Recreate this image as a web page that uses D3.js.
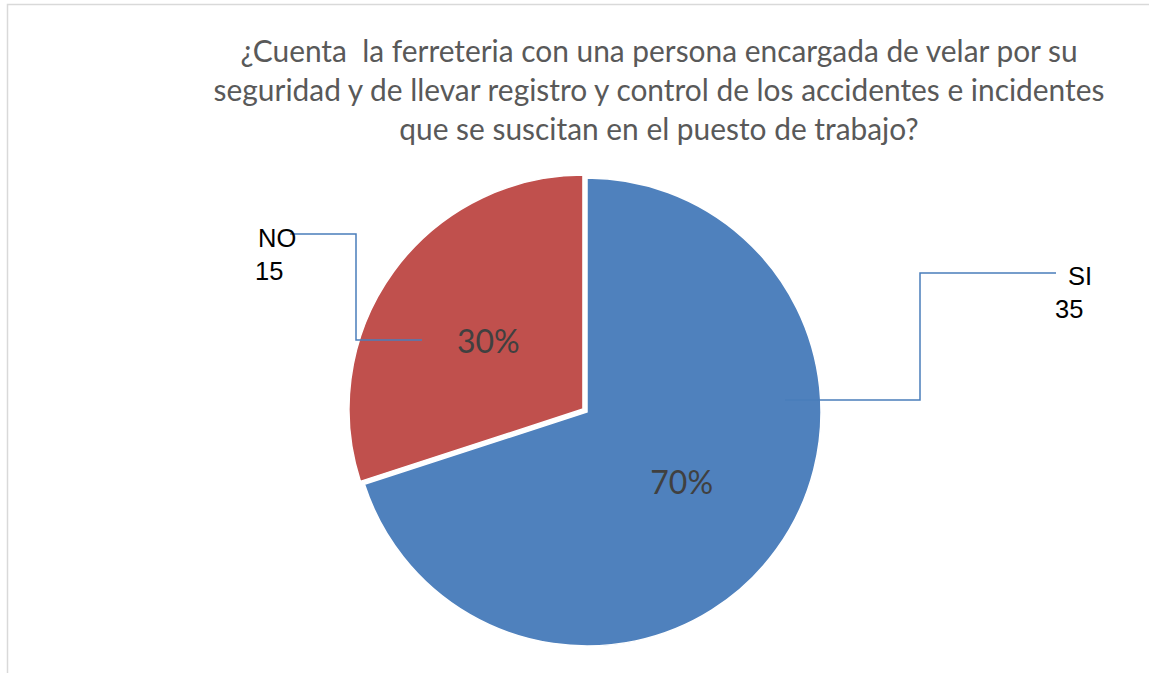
<!DOCTYPE html>
<html><head><meta charset="utf-8">
<script src="https://cdn.jsdelivr.net/npm/d3@7"></script>
<style>html,body{margin:0;padding:0;background:#fff;overflow:hidden} text{white-space:pre}</style>
</head><body>
<svg id="c" width="1149" height="673"></svg>
<script>
const categories = ["SI", "NO"];
const values = [35, 15];
const colors = ["#4F81BD", "#C0504D"];
const titleLines = [
  "¿Cuenta  la ferreteria con una persona encargada de velar por su",
  "seguridad y de llevar registro y control de los accidentes e incidentes",
  "que se suscitan en el puesto de trabajo?"
];

const svg = d3.select("#c");
// chart border
svg.append("rect").attr("x", 7.5).attr("y", 4.5).attr("width", 1200).attr("height", 700)
  .attr("fill", "none").attr("stroke", "#d9d9d9").attr("stroke-width", 1.5);

// title
const title = svg.append("g").attr("font-family", "Lato, 'Open Sans', sans-serif").attr("fill", "#595959");
const tl = title.selectAll("text").data(titleLines).join("text")
  .attr("x", 659).attr("y", (d, i) => 62 + i * 39)
  .attr("text-anchor", "middle").attr("font-size", 28).text(d => d);
const w = tl.nodes()[1].getComputedTextLength();
tl.attr("font-size", 28 * 891 / w);

// pie
const cx = 587, cy = 412, r = 234, explode = 5;
const total = d3.sum(values);
const pie = d3.pie().sort(null).value(d => d)(values);
const arc = d3.arc().innerRadius(0).outerRadius(r);
const labelArc = d3.arc().innerRadius(117).outerRadius(117);
const g = svg.append("g").attr("transform", `translate(${cx},${cy})`);
const off = (d, i) => {
  if (i !== 1) return [0, 0];
  const a = (d.startAngle + d.endAngle) / 2;
  return [Math.sin(a) * explode, -Math.cos(a) * explode];
};
g.selectAll("path").data(pie).join("path")
  .attr("d", arc)
  .attr("transform", (d, i) => `translate(${off(d, i)})`)
  .attr("fill", (d, i) => colors[i])
  .attr("stroke", "#fff").attr("stroke-width", 1.5).attr("stroke-linejoin", "miter");

g.selectAll("text.pct").data(pie).join("text").attr("class", "pct")
  .attr("transform", (d, i) => { const c = labelArc.centroid(d); const o = off(d, i); return `translate(${c[0] + o[0]},${c[1] + o[1] + 2})`; })
  .attr("text-anchor", "middle").attr("dy", "0.35em")
  .attr("font-family", "Lato, 'Open Sans', sans-serif").attr("font-size", 32).attr("fill", "#404040")
  .text(d => Math.round(d.value / total * 100) + "%");

// leader lines (relative to pie center)
const leaders = [
  [[469, -139], [333, -139], [333, -12], [198, -12]],
  [[-297, -178], [-231, -178], [-231, -72], [-165, -72]]
];
g.selectAll("path.lead").data(leaders).join("path").attr("class", "lead")
  .attr("d", d => d3.line()(d)).attr("fill", "none")
  .attr("stroke", "#4A7EBB").attr("stroke-width", 1.5);

// category labels
const labPos = [[481, -127, 468, -94], [-329, -165, -332, -132]];
const lg = g.append("g").attr("font-family", "'Liberation Sans', Arial, sans-serif").attr("font-size", 25.5).attr("fill", "#000");
categories.forEach((c, i) => {
  const p = labPos[i];
  lg.append("text").attr("x", p[0]).attr("y", p[1]).text(c);
  lg.append("text").attr("x", p[2]).attr("y", p[3]).text(values[i]);
});
</script>
</body></html>
